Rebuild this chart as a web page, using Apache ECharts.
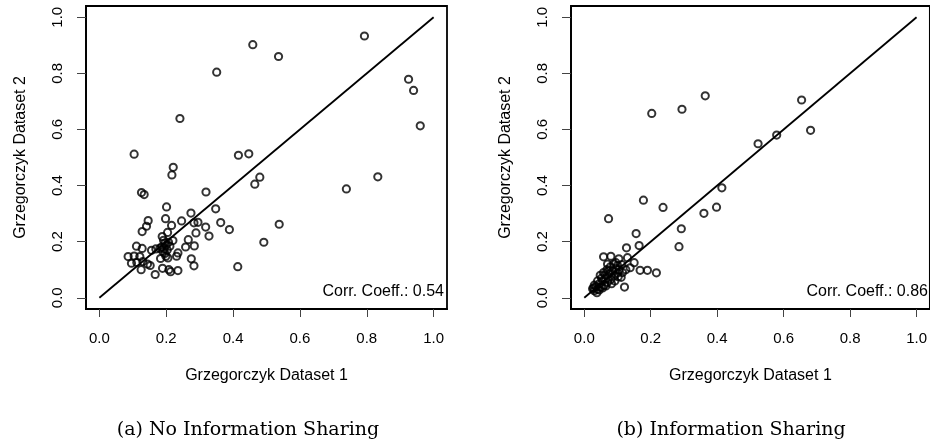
<!DOCTYPE html>
<html>
<head>
<meta charset="utf-8">
<script src="https://cdn.jsdelivr.net/npm/echarts@6/dist/echarts.min.js"></script>
<style>
  html, body { margin: 0; padding: 0; background: #fff; }
  #chart { width: 930px; height: 446px; }
</style>
</head>
<body>
<div id="chart"></div>
<script>
// ---- data ----
var tickValues = [0, 0.2, 0.4, 0.6, 0.8, 1.0];
var tickLabels = ['0.0', '0.2', '0.4', '0.6', '0.8', '1.0'];
var xTitle = 'Grzegorczyk Dataset 1';
var yTitle = 'Grzegorczyk Dataset 2';
var captions = ['(a) No Information Sharing', '(b) Information Sharing'];
var corrLabels = ['Corr. Coeff.: 0.54', 'Corr. Coeff.: 0.86'];
var diagonal = [[0, 0], [1, 1]];

var noSharingPoints = [
  [0.104,0.512],[0.241,0.639],[0.351,0.804],[0.459,0.902],[0.536,0.860],[0.793,0.933],
  [0.925,0.779],[0.940,0.739],[0.960,0.613],[0.416,0.508],[0.447,0.513],[0.480,0.430],
  [0.465,0.405],[0.739,0.388],[0.833,0.431],[0.538,0.262],[0.492,0.198],[0.414,0.111],
  [0.389,0.243],[0.221,0.465],[0.217,0.438],[0.126,0.375],[0.134,0.368],[0.319,0.377],
  [0.201,0.324],[0.348,0.317],[0.274,0.302],[0.198,0.282],[0.146,0.275],[0.141,0.255],
  [0.128,0.236],[0.246,0.274],[0.283,0.267],[0.295,0.269],[0.363,0.268],[0.318,0.252],
  [0.328,0.220],[0.289,0.231],[0.216,0.258],[0.204,0.233],
  [0.188,0.218],[0.192,0.205],[0.196,0.195],[0.200,0.188],[0.186,0.181],[0.203,0.170],
  [0.196,0.158],[0.199,0.148],[0.183,0.140],[0.194,0.175],[0.207,0.198],[0.190,0.165],
  [0.205,0.142],
  [0.266,0.207],[0.258,0.181],[0.284,0.185],[0.220,0.204],[0.211,0.184],[0.235,0.160],
  [0.231,0.148],[0.275,0.139],[0.283,0.114],
  [0.111,0.184],[0.128,0.176],[0.086,0.147],[0.104,0.149],[0.121,0.147],[0.096,0.123],
  [0.112,0.126],[0.130,0.129],[0.144,0.120],[0.152,0.115],[0.125,0.100],[0.167,0.083],
  [0.156,0.169],[0.169,0.174],[0.181,0.176],[0.189,0.105],[0.208,0.100],[0.213,0.093],
  [0.235,0.097]
];

var sharingPoints = [
  [0.203,0.657],[0.294,0.672],[0.364,0.720],[0.654,0.705],[0.681,0.597],[0.579,0.580],
  [0.523,0.549],[0.414,0.392],[0.178,0.348],[0.237,0.322],[0.360,0.301],[0.398,0.323],
  [0.073,0.282],[0.156,0.229],[0.292,0.246],[0.285,0.182],[0.165,0.186],[0.127,0.178],
  [0.058,0.146],[0.080,0.148],[0.104,0.139],[0.130,0.143],[0.168,0.098],[0.190,0.098],
  [0.217,0.089],[0.150,0.125],[0.121,0.038],[0.138,0.107],[0.095,0.125],[0.113,0.118],
  [0.111,0.073],
  [0.025,0.032],[0.030,0.025],[0.035,0.040],[0.040,0.030],[0.045,0.050],[0.050,0.038],
  [0.055,0.060],[0.060,0.045],[0.065,0.070],[0.070,0.055],[0.075,0.085],[0.080,0.065],
  [0.085,0.095],[0.090,0.078],[0.095,0.105],[0.100,0.088],[0.105,0.100],[0.048,0.080],
  [0.058,0.090],[0.068,0.100],[0.078,0.110],[0.088,0.120],[0.045,0.028],[0.055,0.035],
  [0.065,0.042],[0.040,0.060],[0.052,0.070],[0.062,0.082],[0.072,0.095],[0.030,0.045],
  [0.082,0.050],[0.092,0.060],[0.102,0.075],[0.115,0.090],[0.125,0.100],[0.038,0.018],
  [0.028,0.035],[0.070,0.120],[0.100,0.115]
];

// ---- chart ----
var sansFont = 'Liberation Sans, Arial, sans-serif';
var chart = echarts.init(document.getElementById('chart'), null, { renderer: 'canvas' });

function fmt(v) {
  for (var i = 0; i < tickValues.length; i++) {
    if (Math.abs(tickValues[i] - v) < 1e-9) return tickLabels[i];
  }
  return '';
}
function xAxisFor(idx) {
  return {
    gridIndex: idx, type: 'value', min: -0.04, max: 1.04, position: 'bottom',
    name: xTitle, nameLocation: 'middle', nameGap: 59,
    nameTextStyle: { fontFamily: sansFont, fontSize: 16, color: '#000' },
    axisLine: { show: true, onZero: false, lineStyle: { color: '#000', width: 1.8 } },
    splitLine: { show: false },
    axisTick: { show: true, inside: false, customValues: tickValues, length: 8, lineStyle: { color: '#444', width: 1 } },
    axisLabel: {
      show: true, inside: false, customValues: tickValues, margin: 22,
      fontFamily: sansFont, fontSize: 15, color: '#000', formatter: fmt
    }
  };
}
function yAxisFor(idx) {
  return {
    gridIndex: idx, type: 'value', min: -0.04, max: 1.04, position: 'left',
    name: yTitle, nameLocation: 'middle', nameGap: 57, nameRotate: 90,
    nameTextStyle: { fontFamily: sansFont, fontSize: 16, color: '#000' },
    axisLine: { show: true, onZero: false, lineStyle: { color: '#000', width: 1.8 } },
    splitLine: { show: false },
    axisTick: { show: true, inside: false, customValues: tickValues, length: 9, lineStyle: { color: '#444', width: 1 } },
    axisLabel: {
      show: true, inside: false, customValues: tickValues, margin: 21, rotate: 90,
      fontFamily: sansFont, fontSize: 15, color: '#000', formatter: fmt
    }
  };
}
function pointSeries(idx, pts) {
  return {
    type: 'scatter', xAxisIndex: idx, yAxisIndex: idx, data: pts,
    symbol: 'circle', symbolSize: 7.2, silent: true,
    itemStyle: { color: 'rgba(0,0,0,0)', borderColor: '#000', borderWidth: 2 }
  };
}
function lineSeries(idx) {
  return {
    type: 'line', xAxisIndex: idx, yAxisIndex: idx, data: diagonal,
    symbol: 'none', silent: true, lineStyle: { color: '#000', width: 1.8 }
  };
}

chart.setOption({
  animation: false,
  backgroundColor: '#fff',
  grid: [
    { left: 86, top: 6, width: 361, height: 303, show: true, borderColor: '#000', borderWidth: 1.8, backgroundColor: 'transparent' },
    { left: 571, top: 6, width: 361, height: 303, show: true, borderColor: '#000', borderWidth: 1.8, backgroundColor: 'transparent' }
  ],
  xAxis: [xAxisFor(0), xAxisFor(1)],
  yAxis: [yAxisFor(0), yAxisFor(1)],
  series: [
    lineSeries(0), pointSeries(0, noSharingPoints),
    lineSeries(1), pointSeries(1, sharingPoints)
  ],
  graphic: [
    { type: 'text', right: 930 - 444, top: 284, style: { text: corrLabels[0], font: '16px ' + sansFont, fill: '#000' } },
    { type: 'text', right: 2, top: 284, style: { text: corrLabels[1], font: '16px ' + sansFont, fill: '#000' } },
    { type: 'text', x: 248, y: 430, style: { text: captions[0], font: '19px "DejaVu Serif", serif', fill: '#000', align: 'center', verticalAlign: 'middle' } },
    { type: 'text', x: 731, y: 430, style: { text: captions[1], font: '19px "DejaVu Serif", serif', fill: '#000', align: 'center', verticalAlign: 'middle' } }
  ]
});
</script>
</body>
</html>
